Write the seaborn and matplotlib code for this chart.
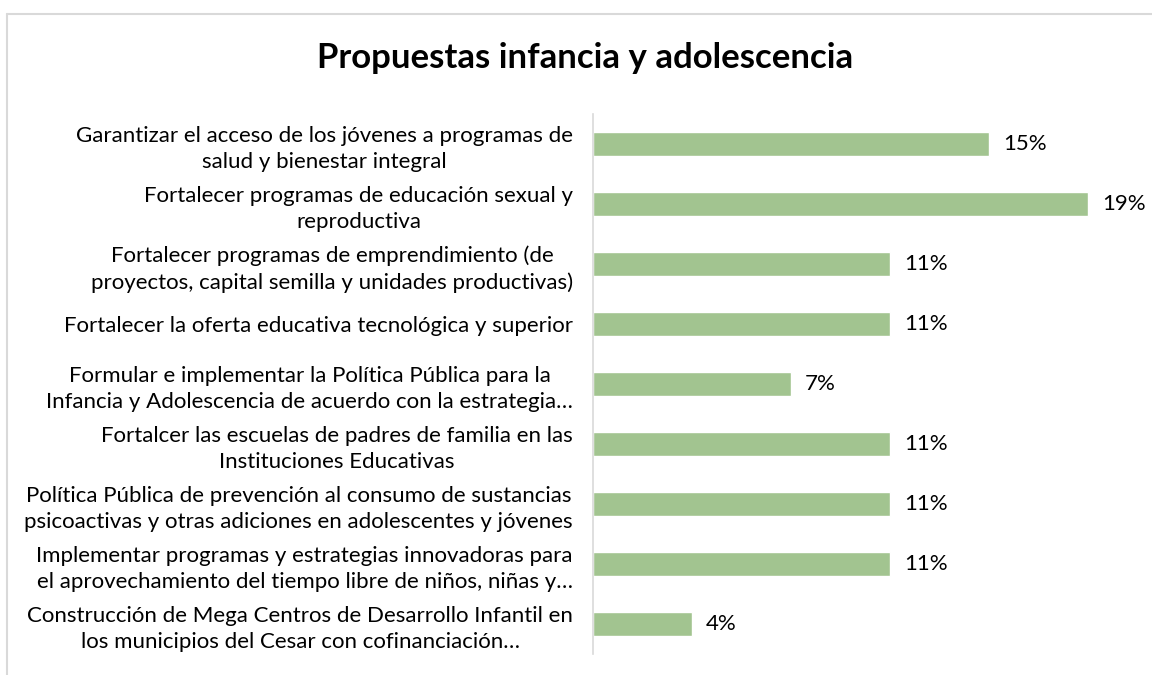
import seaborn as sns
import matplotlib.pyplot as plt
import pandas as pd
from matplotlib.lines import Line2D

# datos: respuestas sobre 27 participantes
propuestas = [
    'Garantizar el acceso de los jóvenes a programas de\nsalud y bienestar integral',
    'Fortalecer programas de educación sexual y\nreproductiva',
    'Fortalecer programas de emprendimiento (de\nproyectos, capital semilla y unidades productivas)',
    'Fortalecer la oferta educativa tecnológica y superior',
    'Formular e implementar la Política Pública para la\nInfancia y Adolescencia de acuerdo con la estrategia…',
    'Fortalcer las escuelas de padres de familia en las\nInstituciones Educativas',
    'Política Pública de prevención al consumo de sustancias\npsicoactivas y otras adiciones en adolescentes y jóvenes',
    'Implementar programas y estrategias innovadoras para\nel aprovechamiento del tiempo libre de niños, niñas y…',
    'Construcción de Mega Centros de Desarrollo Infantil en\nlos municipios del Cesar con cofinanciación…',
]
votos = [4, 5, 3, 3, 2, 3, 3, 3, 1]
total = 27

df = pd.DataFrame({'propuesta': propuestas, 'votos': votos})
df['porcentaje'] = df['votos'] / total

sns.set_style('white')
plt.rcParams['font.family'] = ['Lato', 'DejaVu Sans']

fig = plt.figure(figsize=(11.52, 6.75), dpi=100)
ax = fig.add_axes([593 / 1152, 1 - 654 / 675, 535 / 1152, 540 / 675])

sns.barplot(
    data=df,
    x='porcentaje',
    y='propuesta',
    color='#A2C490',
    width=0.4,
    saturation=1,
    ax=ax,
)

ax.set_xlim(0, 0.20)
ax.set_xlabel('')
ax.set_ylabel('')
ax.set_xticks([])
for lado in ['top', 'right', 'bottom']:
    ax.spines[lado].set_visible(False)
ax.spines['left'].set_color('#D9D9D9')
ax.spines['left'].set_linewidth(1.2)

ax.tick_params(axis='y', length=0, pad=20 * 72 / 100)
for etiqueta in ax.get_yticklabels():
    etiqueta.set_horizontalalignment('right')
    etiqueta.set_multialignment('center')
    etiqueta.set_fontsize(16)
    etiqueta.set_color('#000000')
    etiqueta.set_linespacing(1.4)

# etiquetas de valor
for i, p in enumerate(df['porcentaje']):
    ax.annotate(f'{p:.0%}', xy=(p, i), xytext=(14, 0), textcoords='offset pixels',
                va='center', ha='left', fontsize=16, color='#000000')

fig.text(585 / 1152, 1 - 58 / 675, 'Propuestas infancia y adolescencia',
         ha='center', va='center', fontsize=25, fontweight='bold', color='#000000')

# borde del área del gráfico
fig.add_artist(Line2D([7 / 1152, 1], [1 - 14 / 675] * 2, color='#D9D9D9', lw=1.5))
fig.add_artist(Line2D([7 / 1152] * 2, [0, 1 - 14 / 675], color='#D9D9D9', lw=1.5))

fig.savefig('out.png', dpi=100)
